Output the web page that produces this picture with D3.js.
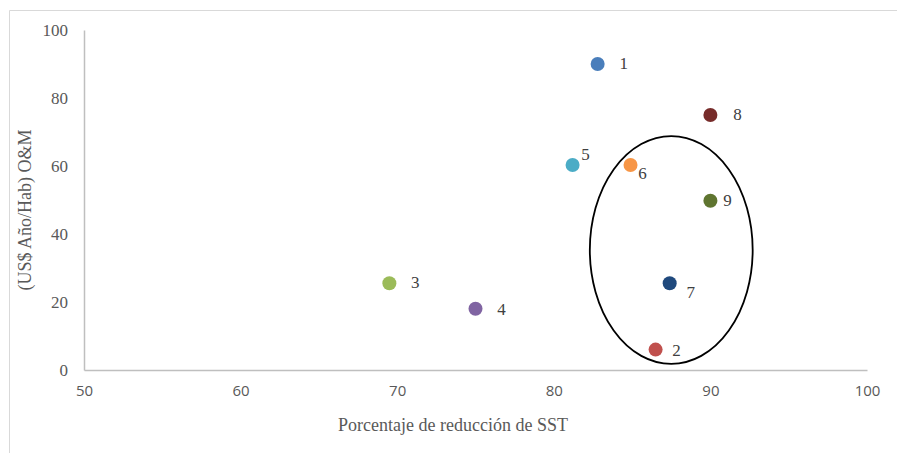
<!DOCTYPE html>
<html>
<head>
<meta charset="utf-8">
<script src="https://cdn.jsdelivr.net/npm/d3@7"></script>
<style>
  html, body { margin: 0; padding: 0; background: #fff; }
  svg { display: block; }
</style>
</head>
<body>
<svg id="chart" width="897" height="453"></svg>
<script>
// Treatment options: SST removal (%) vs. O&M cost (US$ per inhabitant per year)
const ids      = ["1", "2", "3", "4", "5", "6", "7", "8", "9"];
const removal  = [82.8, 86.5, 69.5, 75.0, 81.2, 84.9, 87.4, 90.0, 90.0];
const omCost   = [90, 6, 25.5, 18, 60.3, 60.3, 25.5, 75, 49.8];
const colors   = ["#4a7ebb", "#c0504d", "#9bbb59", "#8064a2", "#4bacc6", "#f79646", "#1f497d", "#772c2a", "#5f7530"];
// label offsets (dx, dy) in px from each marker centre
const labelDx  = [26, 21, 26, 26, 13, 12, 21, 27, 17];
const labelDy  = [1, 2, 1, 2, -9, 10, 11, 1, 1];

const xTicks = [50, 60, 70, 80, 90, 100];
const yTicks = [0, 20, 40, 60, 80, 100];

// highlighted group (options 2, 6, 7, 9), in data units
const groupCenter = { x: 87.5, y: 35.3 };
const groupRadius = { x: 5.2, y: 33.5 };

const svg = d3.select("#chart");
const margin = { left: 84, right: 30, top: 30, bottom: 83 };
const W = 897, H = 453;

const x = d3.scaleLinear().domain([50, 100]).range([margin.left, W - margin.right]);
const y = d3.scaleLinear().domain([0, 100]).range([H - margin.bottom, margin.top]);

// frame (top and left edges)
svg.append("line").attr("x1", 9.5).attr("x2", W).attr("y1", 10.5).attr("y2", 10.5)
  .attr("stroke", "#d9d9d9").attr("stroke-width", 1);
svg.append("line").attr("x1", 9.5).attr("x2", 9.5).attr("y1", 10.5).attr("y2", H)
  .attr("stroke", "#d9d9d9").attr("stroke-width", 1);

// x axis
const xAxis = svg.append("g")
  .attr("transform", `translate(0,${y(0)})`)
  .call(d3.axisBottom(x).tickValues(xTicks).tickSize(0).tickPadding(15).tickFormat(d3.format("d")));
xAxis.select(".domain").attr("stroke", "#bfbfbf").attr("stroke-width", 1.5);
xAxis.selectAll("text").attr("font-family", "'Open Sans', 'Liberation Sans', sans-serif")
  .attr("font-size", 15).attr("fill", "#595959");

// y axis
const yAxis = svg.append("g")
  .attr("transform", `translate(${x(50)},0)`)
  .call(d3.axisLeft(y).tickValues(yTicks).tickSize(0).tickPadding(16).tickFormat(d3.format("d")));
yAxis.select(".domain").attr("stroke", "#bfbfbf").attr("stroke-width", 1.5);
yAxis.selectAll("text").attr("font-family", "'Liberation Serif', 'DejaVu Serif', serif")
  .attr("font-size", 17).attr("fill", "#595959");

// axis titles
svg.append("text")
  .attr("x", 453).attr("y", 431)
  .attr("text-anchor", "middle")
  .attr("font-family", "'Liberation Serif', serif").attr("font-size", 18).attr("fill", "#595959")
  .text("Porcentaje de reducción de SST");

svg.append("text")
  .attr("transform", `translate(31,${210}) rotate(-90)`)
  .attr("text-anchor", "middle")
  .attr("font-family", "'Liberation Serif', serif").attr("font-size", 18).attr("fill", "#595959")
  .text("(US$ Año/Hab) O&M");

// grouping ellipse
svg.append("ellipse")
  .attr("cx", x(groupCenter.x)).attr("cy", y(groupCenter.y))
  .attr("rx", x(50 + groupRadius.x) - x(50))
  .attr("ry", y(0) - y(groupRadius.y))
  .attr("fill", "none").attr("stroke", "#000").attr("stroke-width", 1.8);

// points
const data = ids.map((id, i) => ({ id, x: removal[i], y: omCost[i], c: colors[i], dx: labelDx[i], dy: labelDy[i] }));

svg.append("g").selectAll("circle").data(data).join("circle")
  .attr("cx", d => x(d.x)).attr("cy", d => y(d.y)).attr("r", 7)
  .attr("fill", d => d.c);

svg.append("g").selectAll("text").data(data).join("text")
  .attr("x", d => x(d.x) + d.dx).attr("y", d => y(d.y) + d.dy)
  .attr("dominant-baseline", "middle").attr("text-anchor", "middle")
  .attr("font-family", "'Liberation Serif', serif").attr("font-size", 17).attr("fill", "#404040")
  .text(d => d.id);
</script>
</body>
</html>
